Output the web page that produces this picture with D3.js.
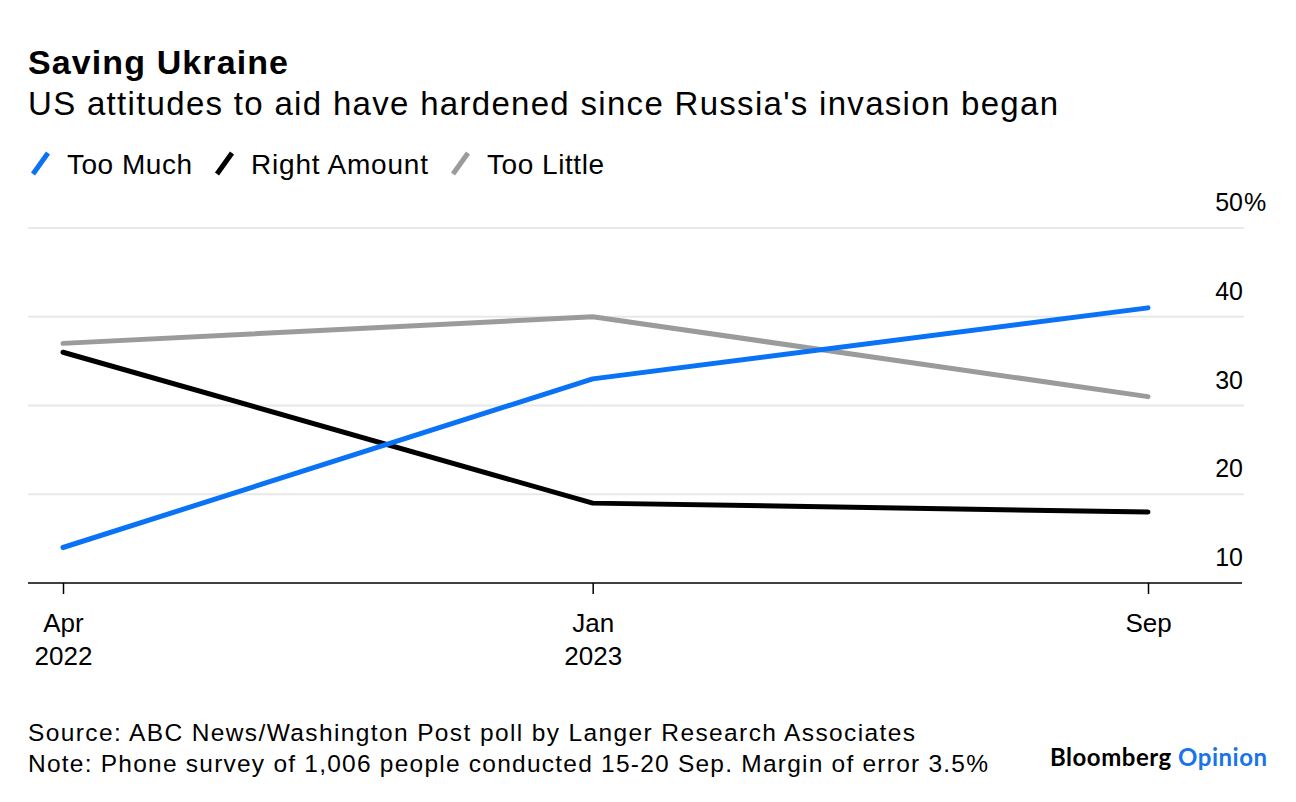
<!DOCTYPE html>
<html>
<head>
<meta charset="utf-8">
<script src="https://cdn.jsdelivr.net/npm/d3@7"></script>
<style>
  html, body { margin: 0; padding: 0; background: #fff; }
  svg { display: block; font-family: "Liberation Sans", Arial, sans-serif; }
</style>
</head>
<body>
<svg id="chart" width="1296" height="802"></svg>
<script>
// ---- data ----
const dates = ["2022-04-28", "2023-01-01", "2023-09-18"];
const tickLabels = [["Apr", "2022"], ["Jan", "2023"], ["Sep"]];
const seriesNames = ["Too Much", "Right Amount", "Too Little"];
const tooMuch = [14, 33, 41];
const rightAmount = [36, 19, 18];
const tooLittle = [37, 40, 31];
const yTicks = [10, 20, 30, 40, 50];
const colors = ["#0a73f5", "#000000", "#9b9b9b"];

const parse = d3.utcParse("%Y-%m-%d");
const dateVals = dates.map(parse);
const series = [tooMuch, rightAmount, tooLittle].map((vals, i) => ({
  name: seriesNames[i], color: colors[i],
  values: vals.map((v, j) => ({ date: dateVals[j], value: v }))
}));

const svg = d3.select("#chart");
const left = 28, right = 1244, plotTop = 228, plotBottom = 583;

const x = d3.scaleUtc().domain([dateVals[0], dateVals[2]]).range([63, 1148]);
const y = d3.scaleLinear().domain([10, 50]).range([plotBottom, plotTop]);

// spread a text's letters so it spans the target width
function fitWidth(sel, target) {
  const node = sel.node();
  const w = node.getComputedTextLength();
  const n = node.textContent.length;
  if (n > 1) sel.attr("letter-spacing", ((target - w) / (n - 1)).toFixed(3));
  return sel;
}

// titles
fitWidth(svg.append("text").attr("x", 28).attr("y", 74)
  .attr("font-size", 34).attr("font-weight", 700).attr("fill", "#000")
  .text("Saving Ukraine"), 260);
fitWidth(svg.append("text").attr("x", 28).attr("y", 115)
  .attr("font-size", 33).attr("fill", "#000")
  .text("US attitudes to aid have hardened since Russia's invasion began"), 1030);

// legend
const legendX = [30, 214, 450];
const legendW = [125, 177, 117];
series.forEach((s, i) => {
  const g = svg.append("g").attr("transform", `translate(${legendX[i]},0)`);
  g.append("line").attr("x1", 3).attr("y1", 174).attr("x2", 18).attr("y2", 153)
    .attr("stroke", s.color).attr("stroke-width", 5);
  fitWidth(g.append("text").attr("x", 37).attr("y", 174).attr("font-size", 28)
    .attr("fill", "#000").text(s.name), legendW[i]);
});

// gridlines
svg.append("g").selectAll("line").data(yTicks.filter(t => t > 10)).join("line")
  .attr("x1", left).attr("x2", right).attr("y1", d => y(d)).attr("y2", d => y(d))
  .attr("stroke", "#e8e8e8").attr("stroke-width", 2);

// y labels
svg.append("g").selectAll("text").data(yTicks).join("text")
  .attr("x", 1243).attr("y", d => y(d) - 17)
  .attr("font-size", 25).attr("fill", "#000")
  .attr("text-anchor", "end")
  .text(d => d);
svg.append("text").attr("x", 1244).attr("y", y(50) - 17)
  .attr("font-size", 25).attr("fill", "#000").text("%");

// x axis
const xAxis = d3.axisBottom(x).tickValues(dateVals).tickSize(11).tickFormat(() => "");
const gx = svg.append("g").attr("transform", `translate(0,${plotBottom})`).call(xAxis);
gx.select(".domain").remove();
gx.selectAll(".tick line").attr("stroke", "#000").attr("stroke-width", 1.5);
svg.append("line").attr("x1", left).attr("x2", 1242).attr("y1", plotBottom).attr("y2", plotBottom)
  .attr("stroke", "#000").attr("stroke-width", 1.5);
gx.selectAll(".tick").each(function(d, i) {
  const t = d3.select(this).append("text").attr("fill", "#000").attr("font-size", 26)
    .attr("text-anchor", "middle").attr("font-family", "Liberation Sans, Arial, sans-serif");
  tickLabels[i].forEach((l, k) => t.append("tspan").attr("x", 0).attr("y", 49 + k * 33).text(l));
});

// lines (gray, black, then blue on top)
const line = d3.line().x(d => x(d.date)).y(d => y(d.value));
svg.append("g").selectAll("path").data([series[2], series[1], series[0]]).join("path")
  .attr("d", d => line(d.values)).attr("fill", "none")
  .attr("stroke", d => d.color).attr("stroke-width", 5)
  .attr("stroke-linecap", "round").attr("stroke-linejoin", "round");

// footer
fitWidth(svg.append("text").attr("x", 28).attr("y", 741).attr("font-size", 24.5).attr("fill", "#000")
  .text("Source: ABC News/Washington Post poll by Langer Research Associates"), 887);
fitWidth(svg.append("text").attr("x", 28).attr("y", 772).attr("font-size", 24.5).attr("fill", "#000")
  .text("Note: Phone survey of 1,006 people conducted 15-20 Sep. Margin of error 3.5%"), 960);

const logo = svg.append("text").attr("x", 1050).attr("y", 766)
  .attr("font-size", 24).attr("font-weight", 700).attr("font-family", "Lato, 'Open Sans', sans-serif");
logo.append("tspan").attr("fill", "#000").text("Bloomberg ");
logo.append("tspan").attr("fill", "#1a73e8").text("Opinion");
fitWidth(logo, 217);
</script>
</body>
</html>
